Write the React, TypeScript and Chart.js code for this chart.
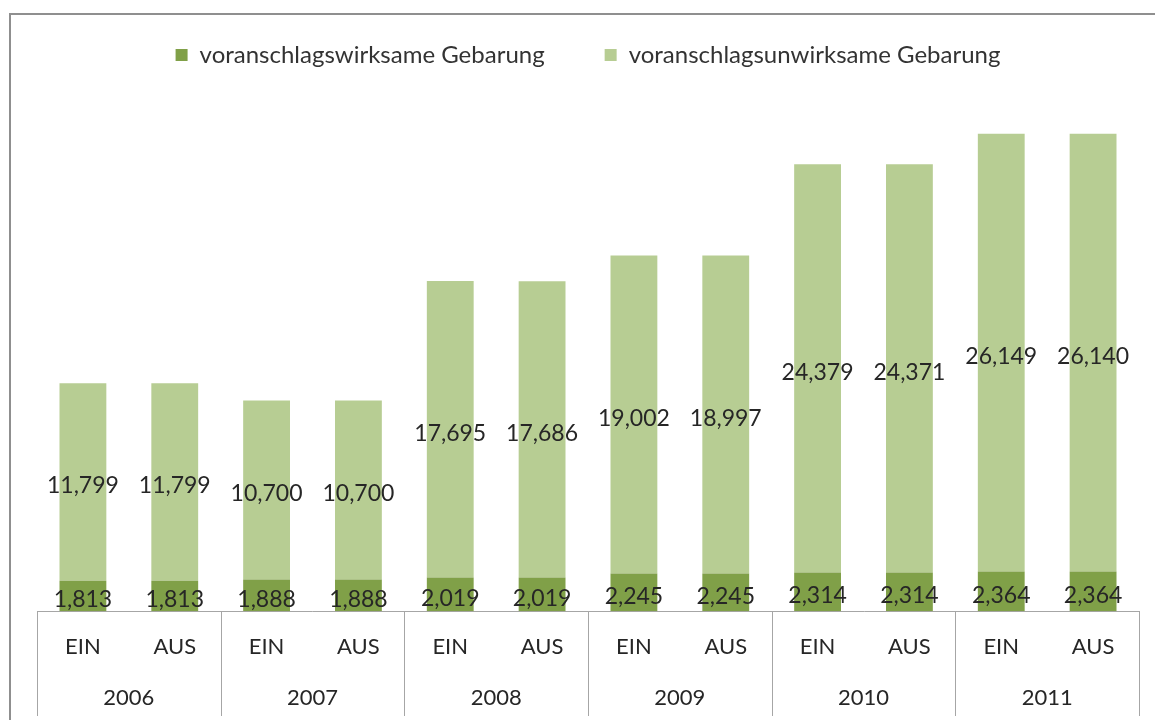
import React, { useEffect, useRef } from 'react';
import { Chart, registerables } from 'chart.js';

Chart.register(...registerables);

const subLabels = ['EIN', 'AUS', 'EIN', 'AUS', 'EIN', 'AUS', 'EIN', 'AUS', 'EIN', 'AUS', 'EIN', 'AUS'];
const years = ['2006', '2007', '2008', '2009', '2010', '2011'];
const wirksam = [1813, 1813, 1888, 1888, 2019, 2019, 2245, 2245, 2314, 2314, 2364, 2364];
const unwirksam = [11799, 11799, 10700, 10700, 17695, 17686, 19002, 18997, 24379, 24371, 26149, 26140];
const seriesNames = ['voranschlagswirksame Gebarung', 'voranschlagsunwirksame Gebarung'];

const FONT = 'Lato, "Open Sans", sans-serif';
const DARK = '#80a048';
const LIGHT = '#b7cd93';
const GRID = '#a6a6a6';
const TEXT = '#262626';

const fmt = (v: number) => v.toLocaleString('en-US');

const valueLabels = {
  id: 'valueLabels',
  afterDatasetsDraw(chart: any) {
    const ctx = chart.ctx;
    ctx.save();
    ctx.font = `23px ${FONT}`;
    ctx.fillStyle = TEXT;
    ctx.textAlign = 'center';
    ctx.textBaseline = 'middle';
    chart.data.datasets.forEach((ds: any, di: number) => {
      const meta = chart.getDatasetMeta(di);
      meta.data.forEach((el: any, i: number) => {
        const y = (el.y + el.base) / 2 + 4;
        ctx.fillText(fmt(ds.data[i]), el.x, y);
      });
    });
    ctx.restore();
  },
};

const yearBoxes = {
  id: 'yearBoxes',
  afterDraw(chart: any) {
    const xs = chart.scales.x;
    const ctx = chart.ctx;
    const top = chart.chartArea.bottom;
    const bottom = 716;
    const half = (xs.getPixelForValue(1) - xs.getPixelForValue(0)) / 2;
    ctx.save();
    ctx.strokeStyle = GRID;
    ctx.lineWidth = 1;
    for (let i = 0; i <= years.length; i++) {
      const idx = i * 2;
      const px = idx < subLabels.length ? xs.getPixelForValue(idx) - half : xs.getPixelForValue(idx - 1) + half;
      const x = Math.round(px) + 0.5;
      ctx.beginPath();
      ctx.moveTo(x, top);
      ctx.lineTo(x, bottom);
      ctx.stroke();
    }
    ctx.restore();
  },
};

export default function App() {
  const ref = useRef<HTMLCanvasElement | null>(null);

  useEffect(() => {
    if (!ref.current) return;
    Chart.defaults.font.family = FONT;
    const chart = new Chart(ref.current, {
      type: 'bar',
      data: {
        labels: subLabels,
        datasets: [
          { label: seriesNames[0], data: wirksam, backgroundColor: DARK, borderWidth: 0 },
          { label: seriesNames[1], data: unwirksam, backgroundColor: LIGHT, borderWidth: 0 },
        ],
      },
      options: {
        responsive: false,
        animation: false,
        events: [],
        layout: { padding: { top: -17, left: 37, right: 16, bottom: 8 } },
        datasets: { bar: { categoryPercentage: 0.51, barPercentage: 1 } },
        plugins: {
          legend: {
            position: 'top',
            labels: {
              boxWidth: 12,
              boxHeight: 12,
              padding: 60,
              color: '#333333',
              font: { size: 24, family: FONT },
            },
          },
          tooltip: { enabled: false },
        },
        scales: {
          x: {
            stacked: true,
            grid: { display: false, drawTicks: false },
            border: { display: true, color: GRID, width: 1 },
            ticks: { color: TEXT, font: { size: 22, family: FONT }, padding: 23, maxRotation: 0, autoSkip: false },
          },
          x2: {
            type: 'category',
            labels: years,
            position: 'bottom',
            offset: true,
            grid: { display: false, drawTicks: false },
            border: { display: false },
            ticks: { color: TEXT, font: { size: 22, family: FONT }, padding: 1, maxRotation: 0, autoSkip: false },
          },
          y: {
            stacked: true,
            display: false,
            min: 0,
            max: 31900,
          },
        },
      },
      plugins: [valueLabels, yearBoxes],
    } as any);
    return () => chart.destroy();
  }, []);

  return (
    <div style={{ position: 'fixed', left: 0, top: 0, width: 1155, height: 720, overflow: 'hidden', background: '#ffffff' }}>
      <div
        style={{
          position: 'absolute',
          left: 9,
          top: 13,
          width: 1300,
          height: 900,
          borderTop: '2px solid #8f8f8f',
          borderLeft: '2px solid #8f8f8f',
        }}
      />
      <canvas ref={ref} width={1155} height={720} style={{ position: 'absolute', left: 0, top: 0, display: 'block' }} />
    </div>
  );
}
